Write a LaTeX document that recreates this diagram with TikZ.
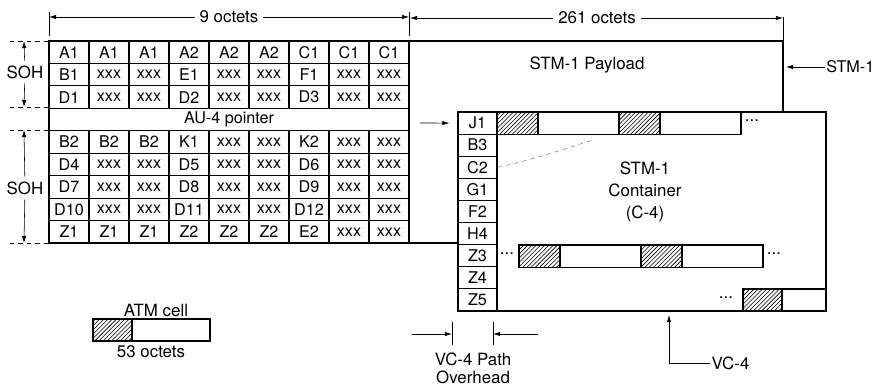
\documentclass[tikz,border=0pt]{standalone}
\usepackage{fontspec}
\setmainfont{TeX Gyre Heros}
\usetikzlibrary{arrows.meta,patterns}

\begin{document}
\begin{tikzpicture}[x=0.025cm,y=-0.025cm,>={Latex[length=5pt,width=3pt]},
  every node/.style={font=\fontsize{12}{15.5}\selectfont},
  oct/.style={draw,line width=0.8pt,minimum width=1cm,minimum height=0.561cm,inner sep=0pt,font=\fontsize{11.5}{13}\selectfont},
  poh/.style={draw,line width=0.8pt,minimum width=0.975cm,minimum height=0.553cm,inner sep=0pt,font=\fontsize{11.5}{13}\selectfont},
  hatch/.style={draw,line width=0.8pt,pattern=north east lines},
  clear/.style={draw,line width=0.8pt,fill=white}]
\useasboundingbox (0,0) rectangle (878,385);

% payload and container
\draw[line width=0.8pt] (409,41) rectangle (783,243);
\draw[line width=0.8pt,fill=white] (458,112) rectangle (826,311);

% section overhead, 9 columns
\foreach \r/\row in {1/{A1,A1,A1,A2,A2,A2,C1,C1,C1},
                     2/{B1,xxx,xxx,E1,xxx,xxx,F1,xxx,xxx},
                     3/{D1,xxx,xxx,D2,xxx,xxx,D3,xxx,xxx},
                     5/{B2,B2,B2,K1,xxx,xxx,K2,xxx,xxx},
                     6/{D4,xxx,xxx,D5,xxx,xxx,D6,xxx,xxx},
                     7/{D7,xxx,xxx,D8,xxx,xxx,D9,xxx,xxx},
                     8/{D10,xxx,xxx,D11,xxx,xxx,D12,xxx,xxx},
                     9/{Z1,Z1,Z1,Z2,Z2,Z2,E2,xxx,xxx}}
  \foreach \lab [count=\c] in \row
    \node[oct] (s-\r-\c) at ({29+40*\c},{41+22.45*\r-11.22}) {\lab};
\node[oct,minimum width=9cm] (ptr) at (229,{41+22.45*3.5}) {AU-4 pointer};

% VC-4 path overhead column
\foreach \lab [count=\r] in {J1,B3,C2,G1,F2,H4,Z3,Z4,Z5}
  \node[poh] (p-\r) at (477.5,{112+22.11*\r-11.05}) {\lab};

% ATM cells in the container
\foreach \x in {497,619} {
  \draw[clear] (\x,112) rectangle +(122,22.1);
  \draw[hatch] (\x,112) rectangle +(41,22.1);
}
\foreach \x in {519,641} {
  \draw[clear] (\x,245) rectangle +(122,22.1);
  \draw[hatch] (\x,245) rectangle +(41,22.1);
}
\draw[clear] (743,289) rectangle (826,311);
\draw[hatch] (743,289) rectangle (782,311);
\node (dots1) at (752,121) {...};
\node (dots2) at (507,254) {...};
\node (dots3) at (774,254) {...};
\node (dots4) at (726,298) {...};
\draw[gray,dashed,thin] (p-3.east) .. controls (540,158) and (570,147) .. (593,140);

\node (pay) at (587,65) {STM-1 Payload};
\node[align=center] (c4) at (645,192) {STM-1\\Container\\(C-4)};

% pointer arrow
\coordinate (pin) at (420,123);
\draw[->] (pin) -- ([xshift=-0.2cm]p-1.west);

% STM-1 label
\node[anchor=east,inner sep=1pt,font=\fontsize{11.5}{13}\selectfont] (stm) at (876,67) {STM-1};
\coordinate (stmend) at (786,67);
\draw[->] (stm.west) -- (stmend);

% octet widths
\draw[line width=0.7pt] (49,12) -- (49,36);
\draw[line width=0.7pt] (409,12) -- (409,36);
\draw[line width=0.7pt] (783,17) -- (783,40);
\coordinate (w0) at (49,17);
\coordinate (w1) at (409,17);
\coordinate (w2) at (410,18);
\coordinate (w3) at (783,18);
\node (n9) at (229,17) {9 octets};
\node (n261) at (597,18) {261 octets};
\draw[->] (n9) -- (w0);
\draw[->] (n9) -- (w1);
\draw[->] (n261) -- (w2);
\draw[->] (n261) -- (w3);

% SOH heights
\foreach \y in {41,107,130,243}
  \draw[dashed,line width=0.7pt] (10,\y) -- (49,\y);
\node (soh1) at (25,72) {SOH};
\node (soh2) at (25,188) {SOH};
\coordinate (h1) at (24,41);
\coordinate (h2) at (24,107);
\coordinate (h3) at (24,130);
\coordinate (h4) at (24,243);
\draw[->] (soh1) -- (h1);
\draw[->] (soh1) -- (h2);
\draw[->] (soh2) -- (h3);
\draw[->] (soh2) -- (h4);

% path overhead width
\draw[line width=0.7pt] (452,322) -- (452,345);
\draw[line width=0.7pt] (493,322) -- (493,345);
\coordinate (o1) at (412,334);
\coordinate (o2) at (452,334);
\coordinate (o3) at (538,334);
\coordinate (o4) at (493,334);
\draw[->] (o1) -- (o2);
\draw[->] (o3) -- (o4);
\node[align=center,font=\fontsize{12}{13}\selectfont] (poh) at (473,368) {VC-4 Path\\Overhead};

% VC-4 label
\node[anchor=west,inner sep=1pt] (vc4) at (710,363) {VC-4};
\coordinate (vctip) at (669,315);
\draw[->] (vc4.west) -- (669,363) -- (vctip);

% legend
\draw[clear] (93,319) rectangle (210,341);
\draw[hatch] (93,319) rectangle (132,341);
\node (atm) at (156,310) {ATM cell};
\node (len) at (151,352) {53 octets};
\end{tikzpicture}
\end{document}
